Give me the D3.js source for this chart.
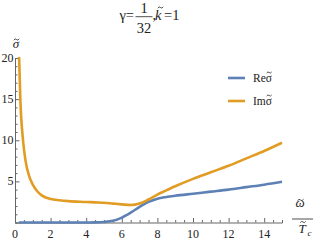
<!DOCTYPE html>
<html>
<head>
<meta charset="utf-8">
<script src="https://cdn.jsdelivr.net/npm/d3@7"></script>
<style>
  body { margin: 0; background: #fff; }
</style>
</head>
<body>
<svg></svg>
<script>
// data
var omega = [0.22, 0.3, 0.45, 0.6, 0.8, 1.0, 1.25, 1.5, 2, 2.5, 3, 4, 4.5, 5, 5.5, 6, 6.5, 7, 7.5, 8, 8.5, 9, 10, 11, 12, 13, 14, 15];
var imSigma = [21, 15, 10, 7.4, 5.6, 4.6, 3.8, 3.3, 2.85, 2.7, 2.6, 2.5, 2.45, 2.4, 2.3, 2.2, 2.12, 2.3, 2.8, 3.4, 3.9, 4.4, 5.3, 6.1, 6.9, 7.8, 8.7, 9.7];
var reSigma = [0, 0, 0, 0, 0, 0, 0, 0, 0, 0, 0, 0, 0.01, 0.06, 0.2, 0.6, 1.2, 1.9, 2.5, 2.9, 3.1, 3.25, 3.5, 3.75, 4.0, 4.3, 4.6, 4.95];
var xTicks = [0, 2, 4, 6, 8, 10, 12, 14];
var yTicks = [5, 10, 15, 20];
var seriesNames = ['Re', 'Im'];
var colors = ['#5e81b5', '#e19c24'];

var FONT = 'Liberation Serif';
var width = 314, height = 245;
var svg = d3.select('svg').attr('width', width).attr('height', height);

var x = d3.scaleLinear().domain([0, 15]).range([15, 282]);
var y = d3.scaleLinear().domain([0, 20]).range([222.5, 58]);

svg.append('clipPath').attr('id', 'clip')
  .append('rect').attr('x', 15).attr('y', 57).attr('width', 270).attr('height', 170);

function txt(sel, s, px, py, size, anchor, italic) {
  return sel.append('text')
    .attr('x', px).attr('y', py)
    .attr('font-family', FONT)
    .attr('font-size', size)
    .attr('fill', '#222')
    .attr('text-anchor', anchor || 'start')
    .attr('font-style', italic ? 'italic' : 'normal')
    .text(s);
}

// small wavy tilde accent drawn as a path
function tilde(cx, cy, w) {
  var h = w * 0.28;
  svg.append('path')
    .attr('d', 'M' + (cx - w / 2) + ',' + (cy + h * 0.4) +
      ' Q' + (cx - w / 4) + ',' + (cy - h) + ' ' + cx + ',' + cy +
      ' T' + (cx + w / 2) + ',' + (cy - h * 0.4))
    .attr('fill', 'none').attr('stroke', '#222').attr('stroke-width', 0.8);
}

// axes (ticks point inward)
var axisColor = '#666';
var xAxis = svg.append('g')
  .attr('transform', 'translate(0,' + y(0) + ')')
  .call(d3.axisTop(x).tickValues(d3.range(0, 15.01, 0.5)).tickSize(2.5).tickFormat(''));
xAxis.selectAll('.tick').filter(function(d) { return d % 2 === 0; }).select('line').attr('y2', -4.5);
xAxis.select('.domain').attr('stroke', axisColor);
xAxis.selectAll('.tick line').attr('stroke', axisColor);

xTicks.forEach(function(d) { txt(svg, d, x(d), 238, 12, 'middle'); });

var yAxis = svg.append('g')
  .attr('transform', 'translate(' + x(0) + ',0)')
  .call(d3.axisRight(y).tickValues(d3.range(0, 20.01, 1)).tickSize(2.5).tickFormat(''));
yAxis.selectAll('.tick').filter(function(d) { return d % 5 === 0; }).select('line').attr('x2', 4.5);
yAxis.select('.domain').attr('stroke', axisColor);
yAxis.selectAll('.tick line').attr('stroke', axisColor);

yTicks.forEach(function(d) { txt(svg, d, 13.5, y(d) + 4, 12, 'end'); });

// curves
var line = function(vals) {
  return d3.line()
    .x(function(d, i) { return x(omega[i]); })
    .y(function(d) { return y(d); })
    .curve(d3.curveMonotoneX)(vals);
};

var g = svg.append('g').attr('clip-path', 'url(#clip)');
[reSigma, imSigma].forEach(function(vals, i) {
  g.append('path')
    .attr('d', line(vals))
    .attr('fill', 'none')
    .attr('stroke', colors[i])
    .attr('stroke-width', 2.6)
    .attr('stroke-linejoin', 'round');
});

// legend
seriesNames.forEach(function(name, i) {
  var ly = 78 + i * 23;
  svg.append('line')
    .attr('x1', 228).attr('x2', 245).attr('y1', ly).attr('y2', ly)
    .attr('stroke', colors[i]).attr('stroke-width', 2.6);
  var t = txt(svg, name + 'σ', 253, ly + 4, 11.5, 'start');
  var w = t.node().getComputedTextLength();
  tilde(253 + w - 2.8, ly - 5.5, 5);
});

// title: γ = 1/32, k̃ = 1
txt(svg, 'γ=', 134, 20, 14.5, 'end', false);
txt(svg, '1', 144, 12.5, 14.5, 'middle');
svg.append('line').attr('x1', 135.5).attr('x2', 152.5).attr('y1', 16.7).attr('y2', 16.7)
  .attr('stroke', '#222').attr('stroke-width', 0.8);
txt(svg, '32', 144, 33, 14.5, 'middle');
txt(svg, ',', 152.5, 20, 14.5, 'start');
txt(svg, 'k', 155, 20, 14.5, 'start', true);
tilde(160.5, 7.5, 5.5);
txt(svg, '=1', 164, 20, 14.5, 'start');

// axis labels
txt(svg, 'σ', 16, 48, 13, 'middle', true);
tilde(16.5, 39.5, 5.5);

txt(svg, 'ω', 300, 207, 13, 'middle', true);
tilde(300.5, 200, 6);
svg.append('line').attr('x1', 292).attr('x2', 313).attr('y1', 219).attr('y2', 219)
  .attr('stroke', '#222').attr('stroke-width', 0.8);
txt(svg, 'T', 302, 233, 13, 'middle', true);
tilde(303, 222, 5.5);
txt(svg, 'c', 307.5, 236, 9, 'start', true);
</script>
</body>
</html>
